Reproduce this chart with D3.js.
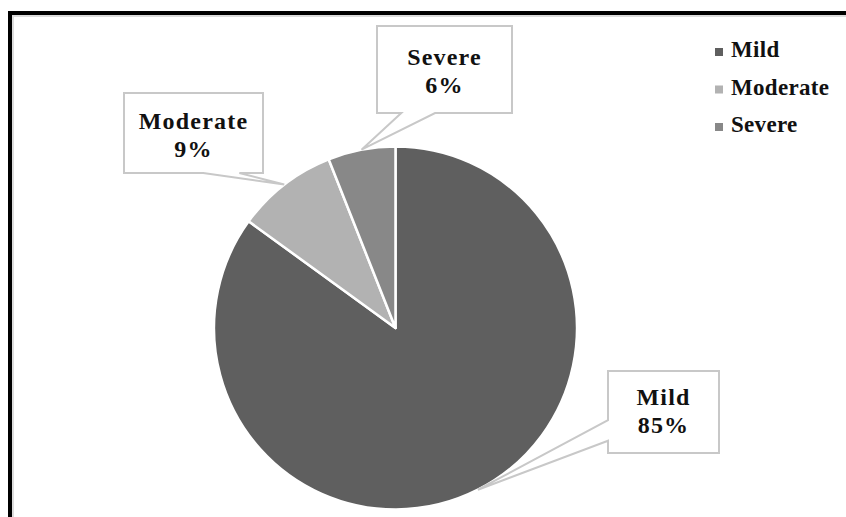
<!DOCTYPE html>
<html>
<head>
<meta charset="utf-8">
<script src="https://cdn.jsdelivr.net/npm/d3@7/dist/d3.min.js"></script>
<style>
  html, body { margin: 0; padding: 0; background: #ffffff; }
  svg { display: block; }
  text { font-family: "Liberation Serif", "Times New Roman", serif; font-weight: bold; fill: #111; }
</style>
</head>
<body>
<svg id="chart" width="846" height="517"></svg>
<script>
// Severity distribution
const categories = ["Mild", "Moderate", "Severe"];
const values = [85, 9, 6];
const valueLabels = ["85%", "9%", "6%"];
const colors = ["#5f5f5f", "#b2b2b2", "#888888"];

// Callout boxes: center, size, which edge carries the pointer and where along it
const callouts = [
  { cx: 663.5, cy: 412, w: 111, h: 82, side: "left",   b0: 0.60, b1: 0.85, ty: -7 },
  { cx: 193.5, cy: 133, w: 139, h: 80, side: "bottom", b0: 0.57, b1: 0.83, ty: -4 },
  { cx: 444.5, cy: 69.5, w: 135, h: 87, side: "bottom", b0: 0.18, b1: 0.43, ty: -4.5 }
];

const W = 846, H = 517;
const svg = d3.select("#chart");

svg.append("rect").attr("width", W).attr("height", H).attr("fill", "#fff");

// Frame: heavy black rule on top and left with a soft grey inner shadow
svg.append("rect").attr("x", 12).attr("y", 15).attr("width", W).attr("height", 2).attr("fill", "#dcdcdc");
svg.append("rect").attr("x", 12).attr("y", 15).attr("width", 2).attr("height", H).attr("fill", "#dcdcdc");
svg.append("rect").attr("x", 8).attr("y", 11).attr("width", W).attr("height", 4).attr("fill", "#000");
svg.append("rect").attr("x", 8).attr("y", 11).attr("width", 4).attr("height", H).attr("fill", "#000");

const cx = 395.5, cy = 328, R = 181.5;

const pie = d3.pie().sort(null).value(d => d);
const arcs = pie(values);
const arc = d3.arc().innerRadius(0).outerRadius(R);

const g = svg.append("g").attr("transform", `translate(${cx},${cy})`);
g.selectAll("path.slice")
  .data(arcs)
  .join("path")
  .attr("class", "slice")
  .attr("d", arc)
  .attr("fill", (d, i) => colors[i])
  .attr("stroke", "#fff")
  .attr("stroke-width", 2.5)
  .attr("stroke-linejoin", "round");

// Data callouts, pointer tip on the slice's outer edge at its mid angle
arcs.forEach((d, i) => {
  const c = callouts[i];
  const mid = (d.startAngle + d.endAngle) / 2;
  const tx = cx + R * Math.sin(mid);
  const ty = cy - R * Math.cos(mid);
  const x0 = c.cx - c.w / 2, x1 = c.cx + c.w / 2;
  const y0 = c.cy - c.h / 2, y1 = c.cy + c.h / 2;
  const p = d3.path();
  if (c.side === "left") {
    const a = y0 + c.b0 * c.h, b = y0 + c.b1 * c.h;
    p.moveTo(x0, y0); p.lineTo(x1, y0); p.lineTo(x1, y1); p.lineTo(x0, y1);
    p.lineTo(x0, b); p.lineTo(tx, ty); p.lineTo(x0, a); p.closePath();
  } else {
    const a = x0 + c.b0 * c.w, b = x0 + c.b1 * c.w;
    p.moveTo(x0, y0); p.lineTo(x1, y0); p.lineTo(x1, y1); p.lineTo(b, y1);
    p.lineTo(tx, ty); p.lineTo(a, y1); p.lineTo(x0, y1); p.closePath();
  }
  svg.append("path")
    .attr("d", p.toString())
    .attr("fill", "#fff")
    .attr("stroke", "#c8c8c8")
    .attr("stroke-width", 2)
    .attr("stroke-linejoin", "miter");

  const t = svg.append("text")
    .attr("text-anchor", "middle")
    .attr("font-size", 24)
    .attr("letter-spacing", 1.2);
  t.append("tspan").attr("x", c.cx).attr("y", c.cy + c.ty).text(categories[i]);
  t.append("tspan").attr("x", c.cx).attr("y", c.cy + c.ty + 28).text(valueLabels[i]);
});

// Legend
const legend = svg.append("g").attr("transform", "translate(715,48)");
const item = legend.selectAll("g")
  .data(categories)
  .join("g")
  .attr("transform", (d, i) => `translate(0,${i * 37.5})`);
item.append("rect")
  .attr("width", 8).attr("height", 8)
  .attr("fill", (d, i) => colors[i]);
item.append("text")
  .attr("x", 16).attr("y", 9)
  .attr("font-size", 23)
  .attr("letter-spacing", 0.3)
  .text(d => d);
</script>
</body>
</html>
